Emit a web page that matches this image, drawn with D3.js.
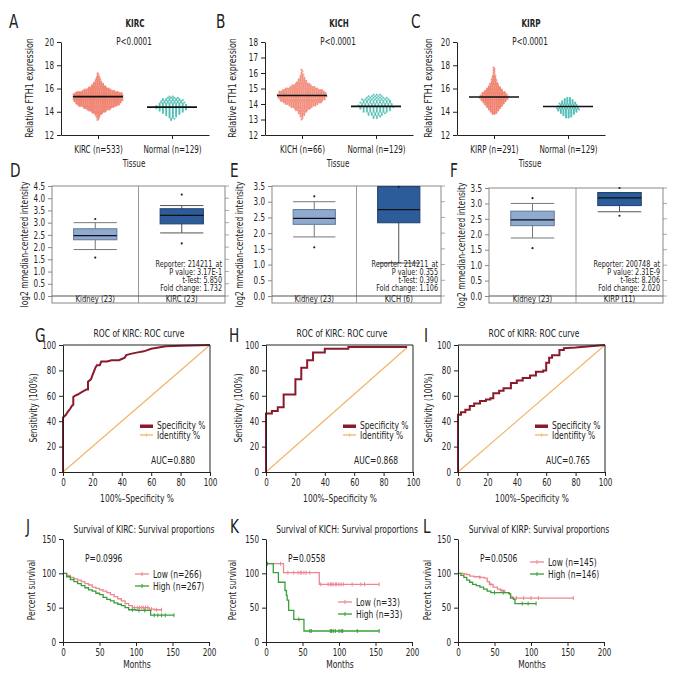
<!DOCTYPE html>
<meta charset="utf-8">
<style>
body {margin: 0; background: #fff;}
svg text {font-family: "Liberation Sans Narrow", "DejaVu Sans Condensed", sans-serif; font-size: 10px; fill: #222;}
.axis path, .axis line {stroke: #222;}
.letter {font-size: 19px !important;}
</style>
<body>
<script src="https://d3js.org/d3.v7.min.js"></script>
<script>
// ---------- A-C: dot plots (counts per 0.1 row)
var kircCats = ["KIRC (n=533)", "Normal (n=129)"]
var kichCats = ["KICH (n=66)", "Normal (n=129)"]
var kirpCats = ["KIRP (n=291)", "Normal (n=129)"]
var kircTumorStart = 13.3
var kircTumorCounts = [1,1,2,2,3,4,6,8,10,13,15,17,21,23,24,25,26,27,27,27,27,27,27,26,23,18,15,12,10,8,7,6,5,4,3,3,2,2,1,1,1]
var kircNormalStart = 13.3
var kircNormalCounts = [1,2,2,3,4,5,6,7,8,9,10,11,10,9,8,8,7,7,6,4,2]
var kichTumorStart = 13.0
var kichTumorCounts = [1,1,2,3,4,5,7,9,12,15,18,21,23,25,26,27,27,26,25,22,18,14,11,8,6,5,4,3,2,2,1,1,1]
var kichNormalStart = 13.1
var kichNormalCounts = [2,3,5,6,8,9,10,11,11,10,10,9,9,7,5,3]
var kirpTumorStart = 13.8
var kirpTumorCounts = [2,3,4,5,6,7,8,9,10,11,12,13,14,15,16,16,15,14,13,12,10,9,8,7,6,5,5,4,3,3,3,2,2,2,1,1,1,1,1,1,1]
var kirpNormalStart = 13.5
var kirpNormalCounts = [2,3,4,5,6,7,8,9,9,8,8,7,7,6,5,4,3,2]
var dotMedians = [[15.3, 14.4], [14.55, 13.85], [15.27, 14.45]]

// ---------- D-F: Oncomine box plots
var boxD = [{name: "Kidney (23)", lo: 1.9, q1: 2.3, med: 2.47, q3: 2.75, hi: 3.0, out: [1.57, 3.15]},
            {name: "KIRC (23)", lo: 2.58, q1: 2.95, med: 3.3, q3: 3.57, hi: 3.7, out: [2.15, 4.15]}]
var boxE = [{name: "Kidney (23)", lo: 1.88, q1: 2.28, med: 2.47, q3: 2.75, hi: 3.0, out: [1.55, 3.17]},
            {name: "KICH (6)", lo: 1.05, q1: 2.33, med: 2.75, q3: 3.48, hi: 3.48, out: [3.47]}]
var boxF = [{name: "Kidney (23)", lo: 1.88, q1: 2.28, med: 2.47, q3: 2.75, hi: 3.0, out: [1.55, 3.17]},
            {name: "KIRP (11)", lo: 2.73, q1: 2.93, med: 3.18, q3: 3.35, hi: 3.35, out: [2.6, 3.5]}]
var statsD = ["Reporter: 214211_at", "P value: 3.17E-1", "t-Test: 5.850", "Fold change: 1.732"]
var statsE = ["Reporter: 214211_at", "P value: 0.355", "t-Test: 0.390", "Fold change: 1.106"]
var statsF = ["Reporter: 200748_at", "P value: 2.31E-9", "t-Test: 8.206", "Fold change: 2.020"]

// ---------- G-I: ROC curves [100%-specificity, sensitivity]
var rocG = [[0,0],[0,43],[1,44],[2,45],[3,47],[5,50],[6,52],[7,53],[7,59],[8,60],[10,61],[13,63],[16,65],[17,65],[17,71],[19,73],[20,76],[21,79],[22,82],[23,84],[25,84],[26,87],[30,87],[33,88],[38,88],[40,89],[42,90],[43,92],[46,93],[50,94],[55,95],[60,97],[65,98],[70,99],[80,99.5],[100,100]]
var rocH = [[0,0],[0,46],[4,46],[4,48],[8,48],[8,51],[12,51],[12,61],[20,61],[20,73],[24,73],[24,82],[28,82],[28,88],[32,88],[32,94],[40,94],[40,97],[56,97],[56,98.5],[96,98.5]]
var rocI = [[0,0],[0,45],[2,45],[2,47],[5,47],[5,49],[8,49],[8,52],[11,52],[11,54],[15,54],[15,56],[19,56],[19,57],[22,57],[22,58],[24,58],[24,62],[28,62],[28,64],[31,64],[31,66],[36,66],[36,70],[40,70],[40,72],[44,72],[44,74],[49,74],[49,76],[53,76],[53,79],[58,79],[58,80],[60,80],[60,86],[62,86],[62,90],[64,90],[64,92],[69,92],[69,96],[72,96],[72,97.5],[80,98],[90,99],[100,100]]
var diagH = [[0,0],[96,98]]
var diagFull = [[0,0],[100,100]]
var aucs = ["AUC=0.880", "AUC=0.868", "AUC=0.765"]

// ---------- J-L: survival [months, percent]
var survJLow = [[0,100],[5,97],[10,94],[15,92],[20,90],[25,88],[30,85],[35,83],[40,80],[45,78],[50,76],[55,74],[60,72],[65,69],[70,66],[75,63],[80,60],[85,56],[90,53],[95,50],[115,50],[118,48],[125,47],[135,47]]
var survJHigh = [[0,100],[5,95],[10,91],[15,88],[20,85],[25,82],[30,79],[35,76],[40,74],[45,71],[50,69],[55,65],[60,62],[65,60],[70,57],[75,55],[80,53],[85,50],[90,47],[100,46],[120,39],[152,39]]
var censJLow = [98,102,105,108,110,113,116,121,128,135]
var censJHigh = [95,104,112,125,130,135,140,152]
var survKLow = [[0,114],[24,101],[73,84],[155,84]]
var survKHigh = [[0,114],[10,101],[17,87],[26,75],[28,68],[29,61],[31,46],[38,33],[52,16],[155,16]]
var censKLow = [20,30,38,44,47,49,52,55,60,75,85,88,90,92,95,97,100,103,106,118,130,135,155]
var censKHigh = [2,45,60,62,88,90,92,95,100,103,105,125,155]
var survLLow = [[0,100],[8,99],[12,98],[16,96],[22,95],[30,94],[36,93],[40,88],[43,84],[48,80],[54,77],[58,75],[64,72],[70,70],[72,66],[75,64],[158,64]]
var survLHigh = [[0,100],[4,97],[8,94],[12,90],[16,87],[20,84],[25,82],[30,80],[35,77],[40,74],[45,72],[65,72],[70,70],[72,64],[76,62],[78,56],[107,56]]
var censLLow = [30,45,60,80,90,100,110,158]
var censLHigh = [50,62,88,96,107]

var svg = d3.select("body").append("svg").attr("width", 690).attr("height", 690)

function letter(t, x, y) {
  svg.append("text").attr("class", "letter").attr("x", x).attr("y", y).text(t)
}
function txt(g, t, x, y, anchor, size) {
  return g.append("text").attr("x", x).attr("y", y).attr("text-anchor", anchor || "middle")
    .style("font-size", (size || 10) + "px").text(t)
}
function vlabel(g, t, x, y, size) {
  g.append("text").attr("transform", "translate(" + x + "," + y + ") rotate(-90)")
    .attr("text-anchor", "middle").style("font-size", (size || 10) + "px").text(t)
}

// ---------- dot plot panel
function dotPanel(x0, title, cats, domain, ticks, groups, meds, ylx) {
  var g = svg.append("g")
  var y = d3.scaleLinear().domain(domain).range([135, 42])
  var x = d3.scalePoint().domain(cats).range([x0, x0 + 148]).padding(0.5)
  groups.forEach(function(grp, gi) {
    var pts = []
    grp.counts.forEach(function(c, r) {
      var v = grp.start + r * 0.1
      for (var i = 0; i < c; i++) pts.push({v: v, off: (i - (c - 1) / 2) * grp.sp + (r % 2 ? grp.sp / 4 : -grp.sp / 4)})
    })
    g.selectAll(null).data(pts).join("circle")
      .attr("cx", function(d) { return x(cats[gi]) + d.off })
      .attr("cy", function(d) { return y(d.v) })
      .attr("r", grp.r).attr("fill", grp.color).attr("opacity", grp.op)
  })
  meds.forEach(function(m, i) {
    g.append("line").attr("x1", x(cats[i]) - 25).attr("x2", x(cats[i]) + 25)
      .attr("y1", y(m)).attr("y2", y(m)).attr("stroke", "#111").attr("stroke-width", 1.6)
  })
  g.append("g").attr("class", "axis").attr("transform", "translate(" + x0 + ",0)")
    .call(d3.axisLeft(y).tickValues(ticks).tickFormat(d3.format("d")).tickSize(4).tickSizeOuter(0))
  g.append("g").attr("class", "axis").attr("transform", "translate(0,135)")
    .call(d3.axisBottom(x).tickSize(4).tickSizeOuter(0).tickPadding(7))
  txt(g, title, x0 + 74, 27).style("font-weight", "bold")
  txt(g, "P<0.0001", x0 + 73, 45)
  txt(g, "Tissue", x0 + 73, 167)
  vlabel(g, "Relative FTH1 expression", ylx, 88, 11)
}
var red = "#ee6f5a", teal = "#4cbcb2"
dotPanel(61, "KIRC", kircCats, [12, 20], [12, 14, 16, 18, 20],
  [{start: kircTumorStart, counts: kircTumorCounts, sp: 1.85, r: 1.05, color: red, op: 0.75},
   {start: kircNormalStart, counts: kircNormalCounts, sp: 3.3, r: 1.05, color: teal, op: 0.9}], dotMedians[0], 33)
dotPanel(265, "KICH", kichCats, [12, 18], [12, 13, 14, 15, 16, 17, 18],
  [{start: kichTumorStart, counts: kichTumorCounts, sp: 1.85, r: 1.05, color: red, op: 0.75},
   {start: kichNormalStart, counts: kichNormalCounts, sp: 3.3, r: 1.05, color: teal, op: 0.9}], dotMedians[1], 236)
dotPanel(457, "KIRP", kirpCats, [12, 20], [12, 14, 16, 18, 20],
  [{start: kirpTumorStart, counts: kirpTumorCounts, sp: 1.85, r: 1.05, color: red, op: 0.75},
   {start: kirpNormalStart, counts: kirpNormalCounts, sp: 2.6, r: 1.05, color: teal, op: 0.9}], dotMedians[2], 432)

// ---------- box panel
function boxPanel(x0, x1, top, max, boxes, stats, ylx) {
  var g = svg.append("g")
  var y = d3.scaleLinear().domain([0, max]).range([296, top])
  var x = d3.scaleBand().domain(boxes.map(function(d) { return d.name })).range([x0, x1])
  var bw = x.bandwidth() * 0.5
  var tv = d3.range(0, max + 0.01, 0.5)
  g.selectAll(null).data(tv).join("line").attr("x1", x1).attr("x2", x1 + 4)
    .attr("y1", function(d) { return y(d) }).attr("y2", function(d) { return y(d) }).attr("stroke", "#aaa")
  g.append("g").attr("transform", "translate(" + x0 + ",0)")
    .call(d3.axisLeft(y).tickValues(tv).tickFormat(d3.format(".1f")).tickSize(4).tickSizeOuter(0))
    .call(function(a) { a.select(".domain").remove(); a.selectAll("line").attr("stroke", "#888") })
  g.append("rect").attr("x", x0).attr("y", top).attr("width", x1 - x0).attr("height", 303 - top)
    .attr("fill", "none").attr("stroke", "#888")
  g.append("line").attr("x1", x0 + x.bandwidth()).attr("x2", x0 + x.bandwidth())
    .attr("y1", top).attr("y2", 303).attr("stroke", "#999")
  g.append("line").attr("x1", x0).attr("x2", x1).attr("y1", y(0)).attr("y2", y(0)).attr("stroke", "#555")
  boxes.forEach(function(b, i) {
    var cx = x(b.name) + x.bandwidth() / 2
    var fill = i === 0 ? "#8fa9cf" : "#2c5c99", edge = i === 0 ? "#62799c" : "#1f406e"
    var wc = i === 0 ? "#777" : "#555"
    g.append("line").attr("x1", cx).attr("x2", cx).attr("y1", y(b.lo)).attr("y2", y(b.hi)).attr("stroke", wc)
    ;[b.lo, b.hi].forEach(function(v) {
      g.append("line").attr("x1", cx - bw / 2).attr("x2", cx + bw / 2).attr("y1", y(v)).attr("y2", y(v)).attr("stroke", wc)
    })
    g.append("rect").attr("x", cx - bw / 2).attr("y", y(b.q3)).attr("width", bw).attr("height", y(b.q1) - y(b.q3))
      .attr("fill", fill).attr("stroke", edge)
    g.append("line").attr("x1", cx - bw / 2).attr("x2", cx + bw / 2).attr("y1", y(b.med)).attr("y2", y(b.med))
      .attr("stroke", "#111").attr("stroke-width", 1.2)
    b.out.forEach(function(v) {
      g.append("circle").attr("cx", cx).attr("cy", y(v)).attr("r", 1.1).attr("fill", "#222")
    })
    txt(g, b.name, cx, 302, "middle", 9.5)
  })
  stats.forEach(function(s, i) { txt(g, s, x1 - 3, 267 + i * 8, "end", 9) })
  vlabel(g, "log2 mmedian-centered intensity", ylx, (top + 303) / 2, 10.5)
}
boxPanel(52, 225, 186, 4.5, boxD, statsD, 28)
boxPanel(272, 441, 186, 3.5, boxE, statsE, 243)
boxPanel(489, 663, 188, 3.5, boxF, statsF, 465)

// ---------- ROC panel
function rocPanel(x0, title, curve, diag, auc, ylx) {
  var g = svg.append("g")
  var x = d3.scaleLinear().domain([0, 100]).range([x0, x0 + 147])
  var y = d3.scaleLinear().domain([0, 100]).range([472, 345])
  var line = d3.line().x(function(d) { return x(d[0]) }).y(function(d) { return y(d[1]) })
  g.append("path").attr("d", line(diag)).attr("fill", "none").attr("stroke", "#f2b46a").attr("stroke-width", 1.2)
  g.append("path").attr("d", line(curve)).attr("fill", "none").attr("stroke", "#8a1a2c").attr("stroke-width", 2)
  g.append("g").attr("class", "axis").attr("transform", "translate(0,472)")
    .call(d3.axisBottom(x).tickValues(d3.range(0, 101, 20)).tickSize(4).tickSizeOuter(0))
  g.append("g").attr("class", "axis").attr("transform", "translate(" + x0 + ",0)")
    .call(d3.axisLeft(y).tickValues(d3.range(0, 101, 20)).tickSize(4).tickSizeOuter(0))
  g.append("path").attr("d", "M" + x(0) + "," + y(100) + "H" + x(100) + "V" + y(0))
    .attr("fill", "none").attr("stroke", "#222")
  txt(g, title, x0 + 76, 337, "middle", 10.5)
  txt(g, "100%\u2013Specificity %", x0 + 74, 502, "middle", 10.5)
  vlabel(g, "Sensitivity (100%)", ylx, 408, 10.5)
  g.append("rect").attr("x", x0 + 77).attr("y", 424.5).attr("width", 13).attr("height", 3.5).attr("fill", "#8a1a2c")
  g.append("line").attr("x1", x0 + 77).attr("x2", x0 + 90).attr("y1", 435).attr("y2", 435).attr("stroke", "#f2b46a").attr("stroke-width", 1.3)
  g.append("line").attr("x1", x0 + 83.5).attr("x2", x0 + 83.5).attr("y1", 433.5).attr("y2", 436.5).attr("stroke", "#f2b46a")
  txt(g, "Specificity %", x0 + 94, 429, "start", 10.5)
  txt(g, "Identifity %", x0 + 94, 439, "start", 10.5)
  txt(g, auc, x0 + 132, 464, "end", 10.5)
}
rocPanel(63, "ROC of KIRC: ROC curve", rocG, diagFull, aucs[0], 37)
rocPanel(266, "ROC of KIRC: ROC curve", rocH, diagH, aucs[1], 242)
rocPanel(458, "ROC of KIRR: ROC curve", rocI, diagFull, aucs[2], 432)

// ---------- survival panel
function survPanel(x0, title, low, high, cLow, cHigh, pval, names, legY, ylx) {
  var g = svg.append("g")
  var x = d3.scaleLinear().domain([0, 200]).range([x0, x0 + 146])
  var y = d3.scaleLinear().domain([0, 150]).range([642, 539])
  var line = d3.line().curve(d3.curveStepAfter).x(function(d) { return x(d[0]) }).y(function(d) { return y(d[1]) })
  function at(data, t) {
    var s = data[0][1]
    data.forEach(function(d) { if (d[0] <= t) s = d[1] })
    return s
  }
  var sets = [[low, cLow, "#ee8690"], [high, cHigh, "#3a9e3a"]]
  sets.forEach(function(s) {
    g.append("path").attr("d", line(s[0])).attr("fill", "none").attr("stroke", s[2]).attr("stroke-width", 1.3)
    g.selectAll(null).data(s[1]).join("line")
      .attr("x1", function(d) { return x(d) }).attr("x2", function(d) { return x(d) })
      .attr("y1", function(d) { return y(at(s[0], d)) - 2 }).attr("y2", function(d) { return y(at(s[0], d)) + 2 })
      .attr("stroke", s[2])
  })
  g.append("g").attr("class", "axis").attr("transform", "translate(0,642)")
    .call(d3.axisBottom(x).tickValues([0, 50, 100, 150, 200]).tickSize(4).tickSizeOuter(0))
  g.append("g").attr("class", "axis").attr("transform", "translate(" + x0 + ",0)")
    .call(d3.axisLeft(y).tickValues([0, 50, 100, 150]).tickSize(4).tickSizeOuter(0))
  txt(g, title, x0 + 81, 533, "middle", 10.5)
  txt(g, "Months", x0 + 74, 668, "middle", 10.5)
  vlabel(g, "Percent survival", ylx, 590, 10.5)
  txt(g, pval, x0 + 22, 562, "start", 10.5)
  sets.forEach(function(s, i) {
    var ly = legY + i * 12
    g.append("line").attr("x1", x0 + 72).attr("x2", x0 + 86).attr("y1", ly).attr("y2", ly).attr("stroke", s[2]).attr("stroke-width", 1.3)
    g.append("line").attr("x1", x0 + 79).attr("x2", x0 + 79).attr("y1", ly - 2).attr("y2", ly + 2).attr("stroke", s[2])
    txt(g, names[i], x0 + 90, ly + 4, "start", 10.5)
  })
}
survPanel(63, "Survival of KIRC: Survival proportions", survJLow, survJHigh, censJLow, censJHigh,
  "P=0.0996", ["Low (n=266)", "High (n=267)"], 574, 35)
survPanel(266, "Survival of KICH: Survival proportions", survKLow, survKHigh, censKLow, censKHigh,
  "P=0.0558", ["Low (n=33)", "High (n=33)"], 602, 236)
survPanel(458, "Survival of KIRP: Survival proportions", survLLow, survLHigh, censLLow, censLHigh,
  "P=0.0506", ["Low (n=145)", "High (n=146)"], 562, 431)

// ---------- panel letters
letter("A", 9, 28); letter("B", 216, 28); letter("C", 411, 28)
letter("D", 10, 177); letter("E", 230, 177); letter("F", 450, 177)
letter("G", 35, 342); letter("H", 229, 342); letter("I", 424, 342)
letter("J", 26, 533); letter("K", 230, 533); letter("L", 423, 533)

// the figure uses a condensed face: squeeze every label horizontally
svg.selectAll("text").each(function() {
  var t = d3.select(this), tr = t.attr("transform")
  if (tr) { t.attr("transform", tr + " scale(0.8,1)"); return }
  var x = +t.attr("x") || 0, y = +t.attr("y") || 0
  t.attr("x", null).attr("y", null).attr("transform", "translate(" + x + "," + y + ") scale(0.8,1)")
})
</script>
